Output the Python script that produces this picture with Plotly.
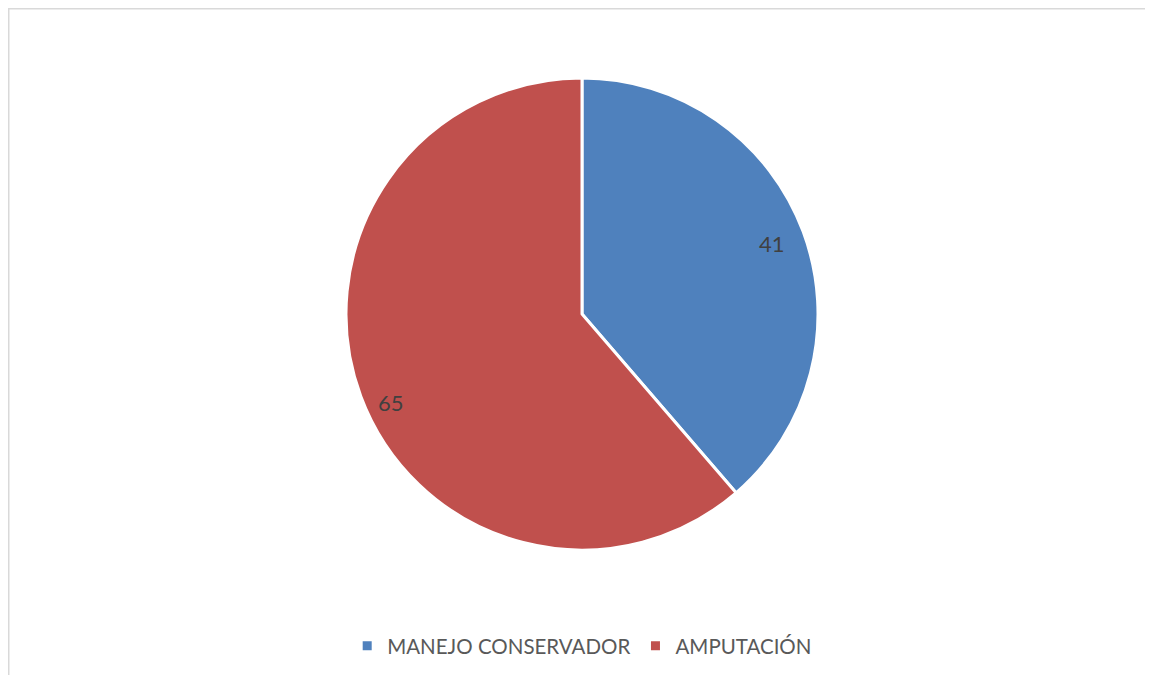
import math
import plotly.graph_objects as go

categories = ["MANEJO CONSERVADOR", "AMPUTACIÓN"]
values = [41, 65]
colors = ["#4F81BD", "#C0504D"]

# label placement style (fraction along slice, fraction of radius)
label_span_frac = [0.50, 0.48]
label_radius_frac = [0.86, 0.89]

W, H = 1153, 675
cx, cy, r = 574, 306, 236

fig = go.Figure(go.Pie(
    labels=categories,
    values=values,
    sort=False,
    direction="clockwise",
    rotation=0,
    marker=dict(colors=colors, line=dict(color="white", width=3)),
    textinfo="none",
    domain=dict(x=[(cx - r) / W, (cx + r) / W], y=[1 - (cy + r) / H, 1 - (cy - r) / H]),
    hoverinfo="label+value",
))

total = sum(values)
annotations = []
start = 0.0
for v, sf, rf in zip(values, label_span_frac, label_radius_frac):
    span = v / total * 2 * math.pi
    theta = start + span * sf
    px = cx + rf * r * math.sin(theta)
    py = cy - rf * r * math.cos(theta)
    annotations.append(dict(
        x=px / W, y=1 - py / H, xref="paper", yref="paper",
        text=str(v), showarrow=False,
        font=dict(family="Lato", size=22, color="#404040"),
        xanchor="center", yanchor="middle",
    ))
    start += span

fig.update_layout(
    width=W, height=H,
    margin=dict(l=0, r=0, t=0, b=0),
    paper_bgcolor="white",
    plot_bgcolor="white",
    showlegend=True,
    legend=dict(
        orientation="h",
        x=0.498, xanchor="center",
        y=1 - 638 / H, yanchor="middle",
        font=dict(family="Lato", size=20.5, color="#595959"),
        itemwidth=30,
        traceorder="normal",
    ),
    annotations=annotations,
    shapes=[dict(
        type="rect", xref="paper", yref="paper",
        x0=0.5 / W, x1=1.01, y0=-0.01, y1=1 - 0.5 / H,
        line=dict(color="#D9D9D9", width=2),
        fillcolor="rgba(0,0,0,0)", layer="below",
    )],
)

fig.write_html("out.html")
